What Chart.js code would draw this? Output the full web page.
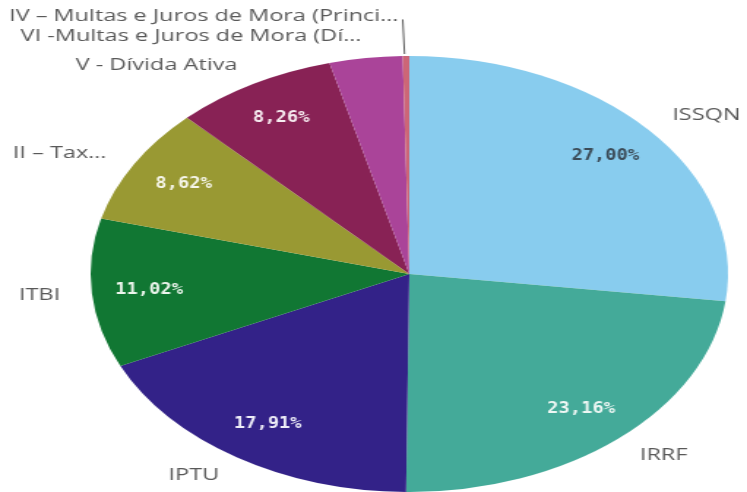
<!DOCTYPE html>
<html>
<head>
<meta charset="utf-8">
<script src="https://cdn.jsdelivr.net/npm/chart.js@4/dist/chart.umd.min.js"></script>
<style>
  html, body { margin: 0; padding: 0; background: #fff; }
  #pie { display: block; }
</style>
</head>
<body>
<canvas id="pie" width="511" height="492" style="width:747px;height:492px"></canvas>
<script>
// receita por tipo (% do total)
const categories = [
  'ISSQN',
  'IRRF',
  'IPTU',
  'ITBI',
  'II – Tax…',
  'V - Dívida Ativa',
  'VI -Multas e Juros de Mora (Dí…',
  'IV – Multas e Juros de Mora (Princi…'
];
const shares = [27.00, 23.16, 17.91, 11.02, 8.62, 8.26, 3.70, 0.33];
const sliceColors = ['#88CCEE', '#44AA99', '#332288', '#117733', '#999933', '#882255', '#AA4499', '#CC6677'];
const valueTextColors = ['#3b4b57', '#eef7f4', '#eeeef8', '#eef6ee', '#f6f6ea', '#f8eef2', '#fff', '#fff'];

// the picture is wider than tall, so the canvas is stretched horizontally
const SX = 747 / 511;

function drawText(ctx, text, x, y, align, stretch) {
  ctx.save();
  ctx.translate(x, y);
  ctx.scale(stretch / SX, 1);
  ctx.textAlign = align;
  ctx.textBaseline = 'middle';
  ctx.fillText(text, 0, 0);
  ctx.restore();
}

function fmtPct(v) {
  return v.toFixed(2).replace('.', ',') + '%';
}

const pieLabels = {
  id: 'pieLabels',
  afterDatasetsDraw(chart) {
    const ctx = chart.ctx;
    const arcs = chart.getDatasetMeta(0).data;
    const outside = [];

    arcs.forEach((arc, i) => {
      const { x, y, startAngle, endAngle, outerRadius } = arc.getProps(['x', 'y', 'startAngle', 'endAngle', 'outerRadius'], true);
      const mid = (startAngle + endAngle) / 2;
      const cos = Math.cos(mid), sin = Math.sin(mid);

      if (shares[i] >= 5) {
        ctx.fillStyle = valueTextColors[i];
        ctx.font = 'bold 15px "DejaVu Sans Mono"';
        drawText(ctx, fmtPct(shares[i]), x + cos * outerRadius * 0.82, y + sin * outerRadius * 0.82, 'center', 1.25);
      }

      outside.push({
        i, cos,
        edgeX: x + cos * outerRadius, edgeY: y + sin * outerRadius,
        lx: x + cos * outerRadius * 1.1, ly: y + sin * outerRadius * 1.1,
        shifted: false
      });
    });

    // left side labels: push overlapping ones upward
    const left = outside.filter(o => o.cos < 0).sort((a, b) => b.ly - a.ly);
    for (let k = 1; k < left.length; k++) {
      const prev = left[k - 1];
      if (left[k].ly > prev.ly - 20) {
        left[k].ly = prev.ly - 20;
        left[k].shifted = true;
      }
    }

    ctx.font = '17px "Open Sans"';
    outside.forEach(o => {
      ctx.fillStyle = '#595959';
      let tx = o.lx;
      if (o.shifted) {
        ctx.strokeStyle = '#595959';
        ctx.lineWidth = 1;
        ctx.beginPath();
        ctx.moveTo(o.edgeX - 1, o.edgeY - 2);
        ctx.lineTo(o.lx - 2, o.ly + 3);
        ctx.stroke();
        tx = o.lx - 5;
      }
      drawText(ctx, categories[o.i], tx, o.ly, o.cos >= 0 ? 'left' : 'right', 1.38);
    });
  }
};

new Chart(document.getElementById('pie').getContext('2d'), {
  type: 'pie',
  data: {
    labels: categories,
    datasets: [{
      data: shares,
      backgroundColor: sliceColors,
      borderWidth: 0
    }]
  },
  options: {
    responsive: false,
    animation: false,
    layout: { padding: { top: 56, bottom: 0, left: 49, right: 0 } },
    plugins: {
      legend: { display: false },
      tooltip: { enabled: false }
    }
  },
  plugins: [pieLabels]
});
</script>
</body>
</html>
